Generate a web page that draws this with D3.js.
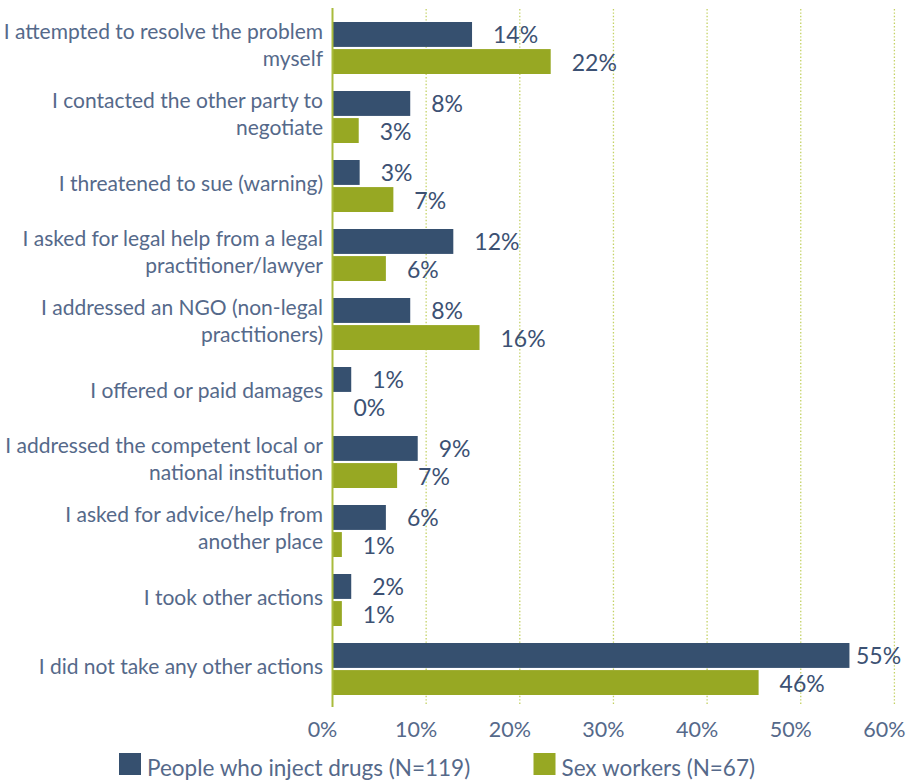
<!DOCTYPE html>
<html>
<head>
<meta charset="utf-8">
<script src="https://cdn.jsdelivr.net/npm/d3@7"></script>
<style>
  html, body { margin: 0; padding: 0; background: #ffffff; }
  svg { display: block; }
  text { font-family: Lato, "Liberation Sans", sans-serif; }
</style>
</head>
<body>
<div id="chart"></div>
<script>
// ---------- data ----------
const categories = [
  "I attempted to resolve the problem\nmyself",
  "I contacted the other party to\nnegotiate",
  "I threatened to sue (warning)",
  "I asked for legal help from a legal\npractitioner/lawyer",
  "I addressed an NGO (non-legal\npractitioners)",
  "I offered or paid damages",
  "I addressed the competent local or\nnational institution",
  "I asked for advice/help from\nanother place",
  "I took other actions",
  "I did not take any other actions"
];
const seriesNames = ["People who inject drugs (N=119)", "Sex workers (N=67)"];
// bar lengths as drawn (percent)
const pwidValues = [14.9, 8.3, 2.9, 12.9, 8.3, 2.0, 9.1, 5.7, 2.0, 55.2];
const swValues   = [23.3, 2.8, 6.5, 5.7, 15.7, 0, 6.9, 1.0, 1.0, 45.5];
// data labels as printed
const pwidLabels = [14, 8, 3, 12, 8, 1, 9, 6, 2, 55];
const swLabels   = [22, 3, 7, 6, 16, 0, 7, 1, 1, 46];
const xTicks = [0, 10, 20, 30, 40, 50, 60];

// ---------- setup ----------
const W = 906, H = 780;
const colors = ["#36506f", "#97a823"];
const svg = d3.select("#chart").append("svg").attr("width", W).attr("height", H);

const x = d3.scaleLinear().domain([0, 60]).range([332.5, 894.4]);
const y = d3.scaleBand().domain(categories).range([13.5, 703.5]).padding(0);
const inner = d3.scaleBand().domain([0, 1]).range([-26, 26]).paddingInner(0.08);

const plotTop = 9, plotBottom = 707;

// gridlines
svg.append("g").selectAll("line")
  .data(xTicks.filter(t => t > 0))
  .join("line")
  .attr("x1", d => x(d)).attr("x2", d => x(d))
  .attr("y1", plotTop).attr("y2", plotBottom - 1)
  .attr("stroke", "#c3d163")
  .attr("stroke-width", 1.3)
  .attr("stroke-dasharray", "1.4,2");

// tick labels
svg.append("g").selectAll("text")
  .data(xTicks)
  .join("text")
  .attr("x", d => x(d) - 10)
  .attr("y", 737)
  .attr("text-anchor", "middle")
  .attr("font-size", 21.5)
  .attr("fill", "#55698a")
  .text(d => d + "%");

// bars
const rows = categories.map((c, i) => ({
  cat: c,
  vals: [pwidValues[i], swValues[i]],
  labs: [pwidLabels[i], swLabels[i]]
}));

const groups = svg.append("g").selectAll("g")
  .data(rows)
  .join("g")
  .attr("transform", d => `translate(0,${y(d.cat) + y.bandwidth() / 2})`);

groups.selectAll("rect")
  .data(d => d.vals.map((v, k) => ({ v, k })))
  .join("rect")
  .attr("x", x(0))
  .attr("y", d => inner(d.k))
  .attr("width", d => x(d.v) - x(0))
  .attr("height", inner.bandwidth())
  .attr("fill", d => colors[d.k]);

groups.selectAll("text.val")
  .data(d => d.vals.map((v, k) => ({ v, k, lab: d.labs[k] })))
  .join("text")
  .attr("class", "val")
  .attr("x", d => Math.min(x(d.v) + 21, 856))
  .attr("y", d => inner(d.k) + inner.bandwidth() / 2 + 9)
  .attr("font-size", 23)
  .attr("fill", "#3c5173")
  .text(d => d.lab + "%");

// category labels
groups.each(function(d) {
  const lines = d.cat.split("\n");
  const n = lines.length;
  const t = d3.select(this).append("text")
    .attr("text-anchor", "end")
    .attr("font-size", 21)
    .attr("fill", "#55698a");
  lines.forEach((ln, k) => {
    t.append("tspan")
      .attr("x", 323)
      .attr("y", (k - (n - 1) / 2) * 27 + 4.5)
      .text(ln);
  });
});

// zero axis line
svg.append("line")
  .attr("x1", x(0)).attr("x2", x(0))
  .attr("y1", plotTop - 1).attr("y2", plotBottom)
  .attr("stroke", "#a9bb3c")
  .attr("stroke-width", 2);

// legend
const legendX = [119, 533.5];
const legend = svg.append("g").selectAll("g")
  .data(seriesNames)
  .join("g")
  .attr("transform", (d, i) => `translate(${legendX[i]},753)`);
legend.append("rect")
  .attr("width", 22).attr("height", 22)
  .attr("fill", (d, i) => colors[i]);
legend.append("text")
  .attr("x", 28).attr("y", 22.5)
  .attr("font-size", 22.5)
  .attr("fill", "#55698a")
  .text(d => d);
</script>
</body>
</html>
